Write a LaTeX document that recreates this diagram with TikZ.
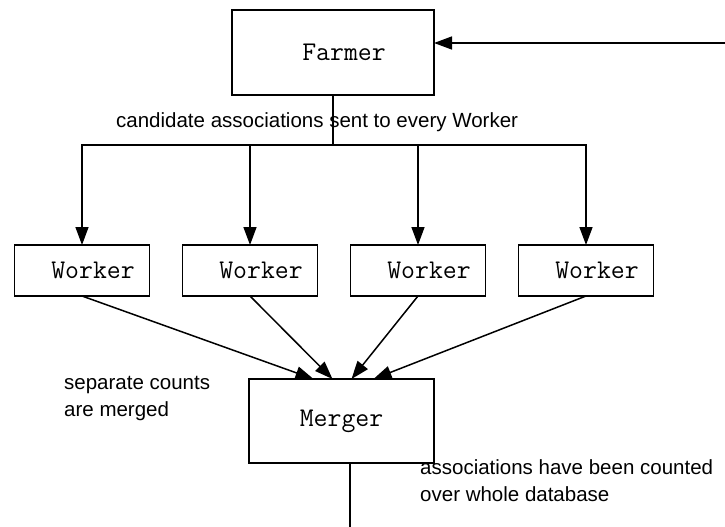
\documentclass[tikz,border=0pt]{standalone}
\usepackage{fontspec}
\setmainfont{Liberation Sans}
\usetikzlibrary{positioning, arrows.meta}

\begin{document}
\begin{tikzpicture}[
    x=1pt, y=-1pt,
    font=\fontsize{20.5}{27}\selectfont,
    proc/.style={
        rectangle, draw=black, line width=1.6pt,
        font=\ttfamily\fontsize{27}{27}\selectfont,
        inner sep=0pt, outer sep=0pt,
    },
    worker/.style={proc, minimum width=135pt, minimum height=51pt,
        execute at begin node={\hspace*{22pt}}},
    flow/.style={-{Triangle[length=18pt, width=13pt]}, line width=1.5pt},
    link/.style={line width=1.5pt},
    note/.style={align=left, inner sep=0pt},
]
\useasboundingbox (0,0) rectangle (725,527);

% --- Farmer and the feedback coming in from the right ---
\node[proc, minimum width=202pt, minimum height=85pt,
      execute at begin node={\hspace*{22pt}}] (farmer) at (333,52.5) {Farmer};
\coordinate (back) at (725,43);
\draw[flow] (back) -- (back -| farmer.east);

% --- Workers, side by side ---
\node[worker] (w1) at (82,270.5) {Worker};
\node[worker, right=33pt of w1] (w2) {Worker};
\node[worker, right=33pt of w2] (w3) {Worker};
\node[worker, right=33pt of w3] (w4) {Worker};

% --- Distribution bus: Farmer -> every Worker ---
\coordinate (bus) at (333,145);
\foreach \w in {w1,w2,w3,w4}{
    \draw[flow] (farmer.south) -- (bus) -| (\w.north);
}
\node[note, anchor=base west] (sent) at (116,127)
    {candidate associations sent to every Worker};

% --- Merger ---
\node[proc, minimum width=185pt, minimum height=84pt] (merger) at (341.5,421) {Merger};
\foreach \w/\dx in {w1/-28, w2/-9, w3/10, w4/32}{
    \draw[flow] (\w.south) -- ([xshift=\dx pt]merger.north);
}
\node[note, anchor=west] (merged) at (64,398) {separate counts\\are merged};

% --- Result leaves at the bottom ---
\coordinate (out) at (350,527);
\draw[link] (merger.south -| out) -- (out);
\node[note, anchor=west] (counted) at (420,481)
    {associations have been counted\\over whole database};

\end{tikzpicture}
\end{document}
